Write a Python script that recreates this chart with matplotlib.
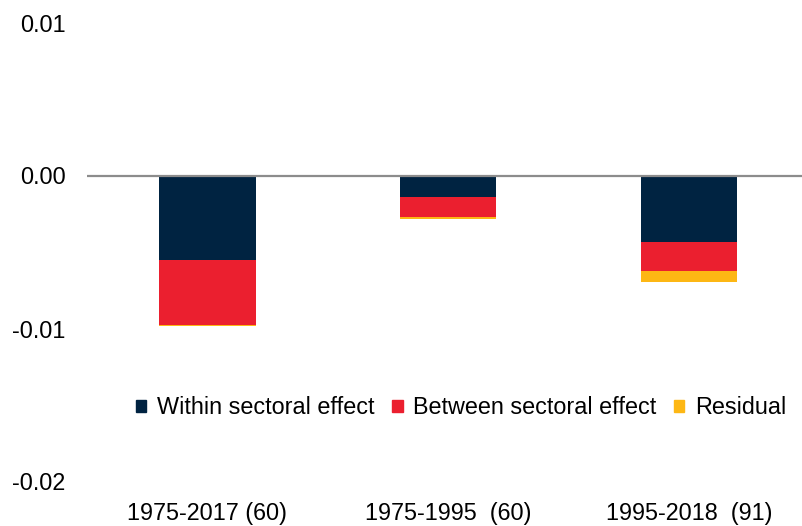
import matplotlib

matplotlib.use("Agg")
import matplotlib.pyplot as plt
import numpy as np
from matplotlib.patches import Patch

periods = ["1975-2017 (60)", "1975-1995  (60)", "1995-2018  (91)"]
within = [-0.00555, -0.00140, -0.00434]
between = [-0.00423, -0.00132, -0.00191]
residual = [-0.00005, -0.00011, -0.00074]

NAVY = "#002341"
RED = "#EB1F2F"
YELLOW = "#FDB714"

plt.rcParams.update({"font.family": ["Liberation Sans", "DejaVu Sans"], "font.size": 16.8})

fig = plt.figure(figsize=(8.02, 5.26), dpi=100)
ax = fig.add_axes([87 / 802, 1 - 481.5 / 526, 1 - 87 / 802, 459 / 526])

x = np.arange(len(periods))
w = 0.4
within = np.array(within)
between = np.array(between)
residual = np.array(residual)
ax.bar(x, within, w, color=NAVY, zorder=2)
ax.bar(x, between, w, bottom=within, color=RED, zorder=2)
ax.bar(x, residual, w, bottom=within + between, color=YELLOW, zorder=2)
ax.axhline(0, color="#8c8c8c", linewidth=1.6, zorder=3)

ax.set_xlim(-0.5, 2.47)
ax.set_ylim(-0.02, 0.01)
ax.set_yticks([0.01, 0.0, -0.01, -0.02])
ax.set_yticklabels(["0.01", "0.00", "-0.01", "-0.02"])
ax.set_xticks(x)
ax.set_xticklabels(periods)
ax.tick_params(axis="y", length=0, pad=15.5)
ax.tick_params(axis="x", length=0, pad=15)
for s in ax.spines.values():
    s.set_visible(False)

# legend sits inside the plot area, under the bars
handles = [Patch(color=NAVY, label="Within sectoral effect"),
           Patch(color=RED, label="Between sectoral effect"),
           Patch(color=YELLOW, label="Residual")]
fig.legend(handles=handles, loc="center", bbox_to_anchor=(461 / 802, 1 - 408 / 526), ncol=3,
           frameon=False, handlelength=0.45, handleheight=0.45, handletextpad=0.45, columnspacing=0.75,
           fontsize=16.8)

fig.savefig("out.png", dpi=100)
